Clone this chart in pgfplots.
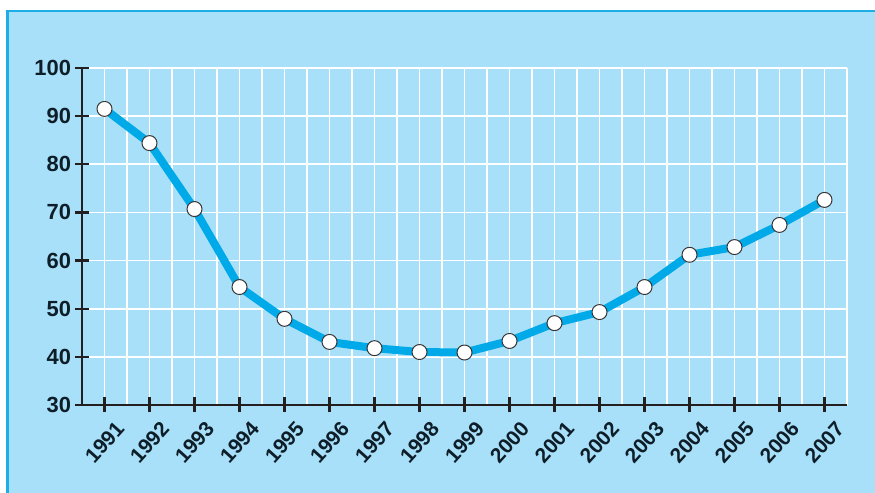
\documentclass[border=0pt]{standalone}
\usepackage{pgfplots}
\pgfplotsset{compat=1.18}
\usepackage{fontspec}
\setmainfont{Liberation Sans}
\definecolor{bgblue}{HTML}{A9E0F9}
\definecolor{edgeblue}{HTML}{1DAEE6}
\definecolor{linecol}{HTML}{00A9E8}
\definecolor{axiscol}{HTML}{231F20}
\definecolor{txtcol}{HTML}{0E1E28}
\begin{document}
\begin{tikzpicture}[x=1bp,y=1bp]
\path[use as bounding box] (0,0) rectangle (875,493);
\fill[bgblue] (7,0) rectangle (875,482);
\draw[edgeblue, line width=2.5bp] (7.25,0) -- (7.25,481.75) -- (875,481.75);
\begin{axis}[
  at={(82bp,88bp)}, anchor=south west,
  scale only axis, width=765bp, height=337bp,
  xmin=1990.5, xmax=2007.5, ymin=30, ymax=100,
  axis x line*=bottom, axis y line*=left,
  axis line style={axiscol, line width=2.5bp},
  xtick={1991,...,2007},
  minor xtick={1991.5,1992.5,...,2007.5},
  ytick={30,40,...,100},
  grid=both,
  major grid style={white, line width=1.8bp},
  minor grid style={white, line width=1.8bp},
  tick align=center,
  major tick length=15bp,
  minor tick length=0bp,
  tick style={axiscol, line width=2.2bp},
  /pgf/number format/assume math mode=true,
  /pgf/number format/1000 sep={},
  yticklabel style={font=\fontsize{22}{24}\selectfont\bfseries, text=txtcol, xshift=0bp},
  xticklabel style={font=\fontsize{21}{23}\selectfont\bfseries, text=txtcol, anchor=center, yshift=-30bp, rotate=48},
  clip=false,
]
\addplot[linecol, line width=8bp, mark=*, mark size=7.5bp,
  mark options={fill=white, draw=axiscol!90, line width=1bp}]
coordinates {
(1991,91.5) (1992,84.4) (1993,70.7) (1994,54.5) (1995,47.9)
(1996,43.1) (1997,41.8) (1998,41.0) (1999,40.9) (2000,43.3)
(2001,47.0) (2002,49.3) (2003,54.5) (2004,61.2) (2005,62.8)
(2006,67.4) (2007,72.6)
};
\end{axis}
\end{tikzpicture}
\end{document}
